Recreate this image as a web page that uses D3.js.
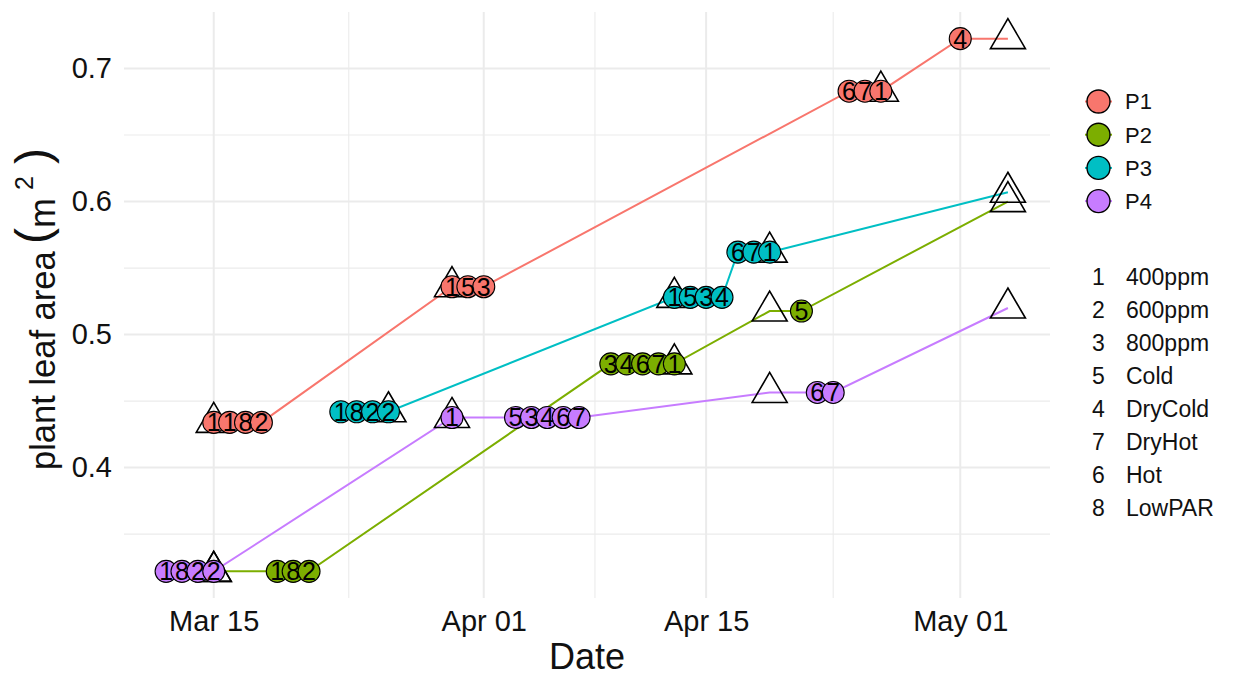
<!DOCTYPE html>
<html>
<head>
<meta charset="utf-8">
<script src="https://cdn.jsdelivr.net/npm/d3@7/dist/d3.min.js"></script>
<style>
  html, body { margin: 0; padding: 0; background: #fff; }
  svg { display: block; font-family: "Liberation Sans", Arial, Helvetica, sans-serif; }
</style>
</head>
<body>
<svg id="chart" width="1240" height="689"></svg>
<script>
// ---------------- data ----------------
const plants = ["P1", "P2", "P3", "P4"];
const plantColors = ["#F8766D", "#7CAE00", "#00BFC4", "#C77CFF"];

const treatmentCodes = ["1", "2", "3", "5", "4", "7", "6", "8"];
const treatmentNames = ["400ppm", "600ppm", "800ppm", "Cold", "DryCold", "DryHot", "Hot", "LowPAR"];

const yTicks = [0.4, 0.5, 0.6, 0.7];
const yMinorTicks = [0.35, 0.45, 0.55, 0.65];
const xTicks = ["2021-03-15", "2021-04-01", "2021-04-15", "2021-05-01"];
const xTickLabels = ["Mar 15", "Apr 01", "Apr 15", "May 01"];
const xMinorTicks = ["2021-03-23T12:00", "2021-04-08", "2021-04-23"];

// measurement points (triangles): [date, leaf area]
const measuredP1 = [["2021-03-15", 0.434], ["2021-03-30", 0.536], ["2021-04-26", 0.683], ["2021-05-04", 0.7225]];
const measuredP2 = [["2021-03-15", 0.322], ["2021-04-13", 0.478], ["2021-04-19", 0.5177], ["2021-05-04", 0.600]];
const measuredP3 = [["2021-03-26", 0.442], ["2021-04-13", 0.528], ["2021-04-19", 0.562], ["2021-05-04", 0.607]];
const measuredP4 = [["2021-03-15", 0.322], ["2021-03-30", 0.4377], ["2021-04-19", 0.4565], ["2021-05-04", 0.520]];

// daily treatment points (circles): [date, treatment code, leaf area]
const dailyP1 = [
  ["2021-03-15", "1", 0.434], ["2021-03-16", "1", 0.434], ["2021-03-17", "8", 0.434], ["2021-03-18", "2", 0.434],
  ["2021-03-30", "1", 0.536], ["2021-03-31", "5", 0.536], ["2021-04-01", "3", 0.536],
  ["2021-04-24", "6", 0.683], ["2021-04-25", "7", 0.683], ["2021-04-26", "1", 0.683],
  ["2021-05-01", "4", 0.7225]
];
const dailyP2 = [
  ["2021-03-19", "1", 0.322], ["2021-03-20", "8", 0.322], ["2021-03-21", "2", 0.322],
  ["2021-04-09", "3", 0.478], ["2021-04-10", "4", 0.478], ["2021-04-11", "6", 0.478], ["2021-04-12", "7", 0.478], ["2021-04-13", "1", 0.478],
  ["2021-04-21", "5", 0.5177]
];
const dailyP3 = [
  ["2021-03-23", "1", 0.442], ["2021-03-24", "8", 0.442], ["2021-03-25", "2", 0.442], ["2021-03-26", "2", 0.442],
  ["2021-04-13", "1", 0.528], ["2021-04-14", "5", 0.528], ["2021-04-15", "3", 0.528], ["2021-04-16", "4", 0.528],
  ["2021-04-17", "6", 0.562], ["2021-04-18", "7", 0.562], ["2021-04-19", "1", 0.562]
];
const dailyP4 = [
  ["2021-03-12", "1", 0.322], ["2021-03-13", "8", 0.322], ["2021-03-14", "2", 0.322], ["2021-03-15", "2", 0.322],
  ["2021-03-30", "1", 0.4377],
  ["2021-04-03", "5", 0.4377], ["2021-04-04", "3", 0.4377], ["2021-04-05", "4", 0.4377], ["2021-04-06", "6", 0.4377], ["2021-04-07", "7", 0.4377],
  ["2021-04-22", "6", 0.4565], ["2021-04-23", "7", 0.4565]
];

const measured = [measuredP1, measuredP2, measuredP3, measuredP4];
const daily = [dailyP1, dailyP2, dailyP3, dailyP4];

// ---------------- layout ----------------
const panel = { left: 124, right: 1050, top: 12, bottom: 598 };
const parse = d3.isoParse;

const allDates = [];
const allVals = [];
plants.forEach((p, i) => {
  measured[i].forEach(d => { allDates.push(parse(d[0])); allVals.push(d[1]); });
  daily[i].forEach(d => { allDates.push(parse(d[0])); allVals.push(d[2]); });
});
const [dMin, dMax] = d3.extent(allDates);
const dPad = (dMax - dMin) * 0.05;
const [vMin, vMax] = d3.extent(allVals);
const vPad = (vMax - vMin) * 0.05;

const x = d3.scaleTime()
  .domain([new Date(+dMin - dPad), new Date(+dMax + dPad)])
  .range([panel.left, panel.right]);
const y = d3.scaleLinear()
  .domain([vMin - vPad, vMax + vPad])
  .range([panel.bottom, panel.top]);

const svg = d3.select("#chart");
const textColor = "#111";

// ---------------- grid ----------------
const grid = svg.append("g");
grid.selectAll("line.ymin").data(yMinorTicks).join("line")
  .attr("x1", panel.left).attr("x2", panel.right)
  .attr("y1", d => y(d)).attr("y2", d => y(d))
  .attr("stroke", "#ebebeb").attr("stroke-width", 1.1);
grid.selectAll("line.xmin").data(xMinorTicks).join("line")
  .attr("y1", panel.top).attr("y2", panel.bottom)
  .attr("x1", d => x(parse(d))).attr("x2", d => x(parse(d)))
  .attr("stroke", "#ebebeb").attr("stroke-width", 1.1);
grid.selectAll("line.ymaj").data(yTicks).join("line")
  .attr("x1", panel.left).attr("x2", panel.right)
  .attr("y1", d => y(d)).attr("y2", d => y(d))
  .attr("stroke", "#ebebeb").attr("stroke-width", 2);
grid.selectAll("line.xmaj").data(xTicks).join("line")
  .attr("y1", panel.top).attr("y2", panel.bottom)
  .attr("x1", d => x(parse(d))).attr("x2", d => x(parse(d)))
  .attr("stroke", "#ebebeb").attr("stroke-width", 2);

// ---------------- axes (text only, like theme_minimal) ----------------
const yAxis = d3.axisLeft(y).tickValues(yTicks).tickSize(0).tickPadding(12).tickFormat(d3.format(".1f"));
const gy = svg.append("g").attr("transform", `translate(${panel.left},0)`).call(yAxis);
gy.select(".domain").remove();
gy.selectAll("text").attr("font-size", 29).attr("fill", textColor)
  .attr("font-family", "Liberation Sans, Arial, sans-serif");

const xAxis = d3.axisBottom(x).tickValues(xTicks.map(parse)).tickSize(0).tickPadding(12)
  .tickFormat((d, i) => xTickLabels[i]);
const gx = svg.append("g").attr("transform", `translate(0,${panel.bottom})`).call(xAxis);
gx.select(".domain").remove();
gx.selectAll("text").attr("font-size", 29).attr("fill", textColor)
  .attr("font-family", "Liberation Sans, Arial, sans-serif");

// axis titles
svg.append("text")
  .attr("x", (panel.left + panel.right) / 2).attr("y", 669)
  .attr("text-anchor", "middle").attr("font-size", 36).attr("fill", textColor)
  .text("Date");

const yt = svg.append("g").attr("transform", "translate(55,470) rotate(-90)")
  .attr("fill", textColor);
yt.append("text").attr("x", 0).attr("y", 0).attr("font-size", 34.5).text("plant leaf area");
yt.append("text").attr("x", 226).attr("y", -6).attr("font-size", 48).text("(");
yt.append("text").attr("x", 242).attr("y", 0).attr("font-size", 36).text("m");
yt.append("text").attr("x", 280).attr("y", -22).attr("font-size", 25).text("2");
yt.append("text").attr("x", 306).attr("y", -6).attr("font-size", 48).text(")");

// ---------------- lines ----------------
const line = d3.line().x(d => x(d.date)).y(d => y(d.v));
plants.forEach((p, i) => {
  const pts = measured[i].map(d => ({ date: parse(d[0]), v: d[1] }))
    .concat(daily[i].map(d => ({ date: parse(d[0]), v: d[2] })));
  pts.sort((a, b) => a.date - b.date);
  svg.append("path").datum(pts)
    .attr("d", line).attr("fill", "none")
    .attr("stroke", plantColors[i]).attr("stroke-width", 2);
});

// ---------------- triangles ----------------
const tri = "M0,-20L17.5,10L-17.5,10Z";
plants.forEach((p, i) => {
  svg.append("g").selectAll("path").data(measured[i]).join("path")
    .attr("transform", d => `translate(${x(parse(d[0]))},${y(d[1])})`)
    .attr("d", tri).attr("fill", "none")
    .attr("stroke", "#000").attr("stroke-width", 1.6).attr("stroke-linejoin", "miter");
});

// ---------------- circles ----------------
plants.forEach((p, i) => {
  svg.append("g").selectAll("circle").data(daily[i]).join("circle")
    .attr("cx", d => x(parse(d[0]))).attr("cy", d => y(d[2]))
    .attr("r", 11).attr("fill", plantColors[i])
    .attr("stroke", "#000").attr("stroke-width", 1.1);
});
plants.forEach((p, i) => {
  svg.append("g").selectAll("text").data(daily[i]).join("text")
    .attr("x", d => x(parse(d[0]))).attr("y", d => y(d[2]))
    .attr("dy", "0.36em").attr("text-anchor", "middle")
    .attr("font-size", 25).attr("fill", "#000")
    .text(d => d[1]);
});

// ---------------- legends ----------------
const leg = svg.append("g");
plants.forEach((p, i) => {
  const cy = 101.5 + i * 33.2;
  leg.append("line").attr("x1", 1085).attr("x2", 1112).attr("y1", cy).attr("y2", cy)
    .attr("stroke", plantColors[i]).attr("stroke-width", 2);
  leg.append("circle").attr("cx", 1098.5).attr("cy", cy).attr("r", 11.5)
    .attr("fill", plantColors[i]).attr("stroke", "#000").attr("stroke-width", 1.4);
  leg.append("text").attr("x", 1125).attr("y", cy).attr("dy", "0.36em")
    .attr("font-size", 22).attr("fill", textColor).text(p);
});
treatmentCodes.forEach((c, i) => {
  const cy = 276.5 + i * 33.0;
  leg.append("text").attr("x", 1098.5).attr("y", cy).attr("dy", "0.36em")
    .attr("text-anchor", "middle").attr("font-size", 23).attr("fill", textColor).text(c);
  leg.append("text").attr("x", 1126).attr("y", cy).attr("dy", "0.36em")
    .attr("font-size", 23).attr("fill", textColor).text(treatmentNames[i]);
});
</script>
</body>
</html>
